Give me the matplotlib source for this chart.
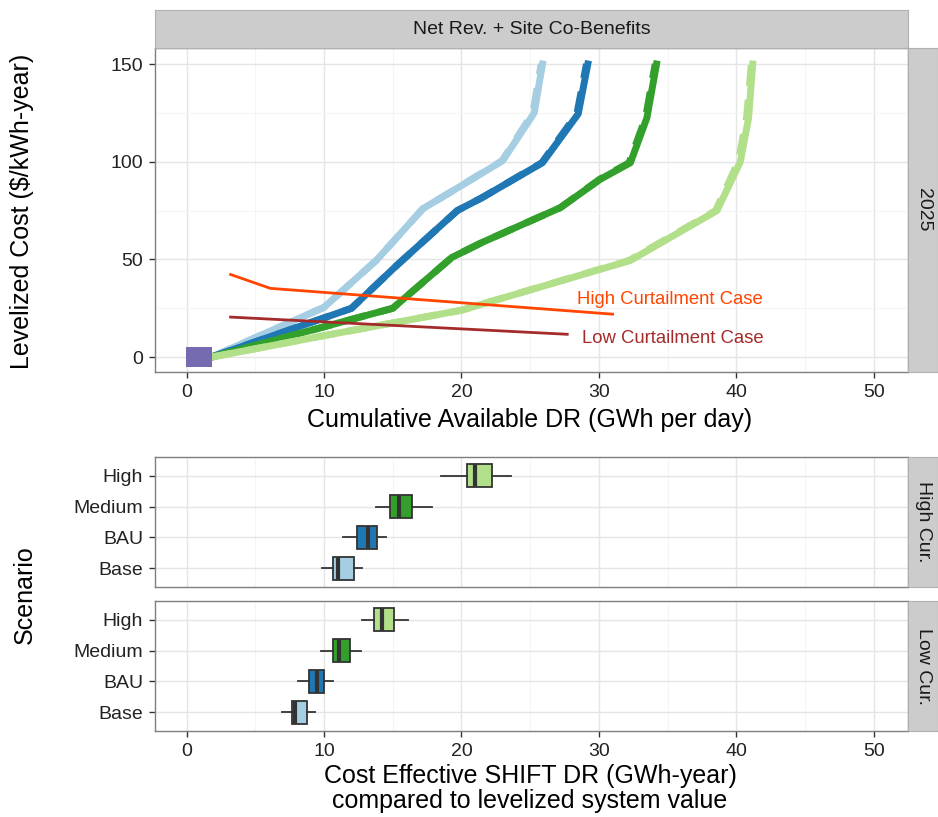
import numpy as np
import matplotlib.pyplot as plt

plt.rcParams['font.family'] = ['Liberation Sans', 'DejaVu Sans']

# supply curves: cumulative DR (GWh/day) vs levelized cost ($/kWh-year)
base_x = [1.8, 10.0, 13.8, 17.2, 19.1, 23.0, 25.3, 25.9]
base_y = [0, 25.5, 49.5, 76, 84, 100.5, 125, 150]
base_x_alt = [1.8, 10.0, 13.8, 17.2, 19.1, 22.95, 25.2, 25.8]

bau_x = [1.8, 12.0, 15.3, 19.7, 21.5, 25.9, 28.5, 29.2]
bau_y = [0, 25, 47, 75, 81.6, 99.5, 124.5, 150]
bau_x_alt = [1.8, 12.0, 15.3, 19.7, 21.5, 25.85, 28.4, 29.1]

med_x = [1.8, 15.0, 19.3, 21.5, 27.2, 30.1, 32.3, 33.5, 34.2]
med_y = [0, 25, 51, 58.7, 76.5, 91, 99.5, 122.5, 150]
med_x_alt = [1.8, 15.0, 19.3, 21.5, 27.2, 30.05, 32.2, 33.4, 34.1]

high_x = [1.8, 10.0, 20.0, 32.3, 38.6, 40.3, 40.9, 41.2]
high_y = [0, 11, 24, 49.5, 75, 100, 122.5, 150]
high_x_alt = [1.8, 10.0, 20.0, 32.2, 38.5, 40.15, 40.75, 41.1]

# levelized system value lines
hc_x = [3.2, 6.1, 31.0]
hc_y = [42.3, 35.2, 22.0]
lc_x = [3.2, 27.7]
lc_y = [20.5, 11.7]

# current DR point
now_x = [0.9]
now_y = [0]

scen = ['Base', 'BAU', 'Medium', 'High']
colors = ['#a6cee3', '#1f78b4', '#33a02c', '#b2df8a']

# boxplot stats (whislo, q1, med, q3, whishi) for each scenario
high_cur = {
    'Base':   [9.83, 10.64, 11.0, 12.17, 12.8],
    'BAU':    [11.36, 12.38, 13.18, 13.89, 14.53],
    'Medium': [13.77, 14.82, 15.47, 16.42, 17.86],
    'High':   [18.55, 20.44, 21.02, 22.26, 23.63],
}
low_cur = {
    'Base':   [6.93, 7.64, 7.88, 8.78, 9.37],
    'BAU':    [8.1, 8.93, 9.51, 10.0, 10.64],
    'Medium': [9.76, 10.64, 11.09, 11.92, 12.72],
    'High':   [12.75, 13.62, 14.23, 15.06, 16.13],
}

W, H = 938, 817
fig = plt.figure(figsize=(W / 100, H / 100), dpi=100)

def px_axes(x0, y0, x1, y1):
    return fig.add_axes([x0 / W, 1 - y1 / H, (x1 - x0) / W, (y1 - y0) / H])

def style(ax):
    for s in ax.spines.values():
        s.set_color('#7f7f7f')
        s.set_linewidth(1.0)
    ax.tick_params(length=4, width=1, color='#333333', labelsize=14, labelcolor='#222222', pad=4.5)
    ax.set_axisbelow(True)

def strip(x0, y0, x1, y1, text, rot=0):
    sa = px_axes(x0, y0, x1, y1)
    sa.set_xticks([]); sa.set_yticks([])
    sa.set_facecolor('#cccccc')
    for s in sa.spines.values():
        s.set_color('#b0b0b0')
    sa.text(0.5, 0.5, text, rotation=rot, ha='center', va='center', fontsize=14,
            color='#1a1a1a', transform=sa.transAxes)

xl = (-2.3, 52.5)

# top panel
ax = px_axes(155, 48, 908, 372)
style(ax)
ax.set_xlim(*xl)
ax.set_ylim(-7.6, 158.2)
ax.set_xticks([0, 10, 20, 30, 40, 50])
ax.set_xticks([5, 15, 25, 35, 45], minor=True)
ax.set_yticks([0, 50, 100, 150])
ax.set_yticks([25, 75, 125], minor=True)
ax.tick_params(which='minor', length=0)
ax.grid(which='major', color='#e5e5e5', lw=1)
ax.grid(which='minor', color='#f5f5f5', lw=0.8)

for (xs, xa, ys), c in zip([(base_x, base_x_alt, base_y), (bau_x, bau_x_alt, bau_y),
                            (med_x, med_x_alt, med_y), (high_x, high_x_alt, high_y)], colors):
    ax.plot(xs, ys, color=c, lw=5, zorder=3)
    ax.plot(xa, ys, color=c, lw=5, ls=(0, (3, 2)), zorder=3)

ax.plot(hc_x, hc_y, color='#ff4500', lw=2, zorder=4)
ax.plot(lc_x, lc_y, color='#a52a2a', lw=2, zorder=4)
ax.text(28.4, 29.6, 'High Curtailment Case', color='#ff4500', fontsize=13.3, va='center')
ax.text(28.8, 9.7, 'Low Curtailment Case', color='#a52a2a', fontsize=13.3, va='center')
rect_marker = [(-1, -0.76), (1, -0.76), (1, 0.76), (-1, 0.76), (-1, -0.76)]
ax.scatter(now_x, now_y, marker=rect_marker, s=330, color='#756bb1', zorder=5, linewidths=0)

fig.text(530 / W, 1 - 420 / H, 'Cumulative Available DR (GWh per day)', fontsize=18,
         ha='center', va='center')
fig.text(22 / W, 1 - 211 / H, 'Levelized Cost ($/kWh-year)', fontsize=18, rotation=90,
         ha='center', va='center')

strip(155, 10, 908, 48, 'Net Rev. + Site Co-Benefits')
strip(908, 48, 938, 372, '2025', rot=-90)

# bottom panels
panels = [(457, 587, high_cur, 'High Cur.'), (601, 731, low_cur, 'Low Cur.')]
for i, (y0, y1, data, lab) in enumerate(panels):
    bx = px_axes(155, y0, 908, y1)
    style(bx)
    bx.set_xlim(*xl)
    bx.set_ylim(0.4, 4.6)
    bx.set_xticks([0, 10, 20, 30, 40, 50])
    bx.set_xticks([5, 15, 25, 35, 45], minor=True)
    bx.tick_params(which='minor', length=0)
    bx.grid(which='major', color='#e5e5e5', lw=1)
    bx.grid(which='minor', axis='x', color='#f5f5f5', lw=0.8)
    stats = []
    for s in scen:
        lo, q1, med, q3, hi = data[s]
        stats.append({'whislo': lo, 'q1': q1, 'med': med, 'q3': q3, 'whishi': hi, 'fliers': []})
    bp = bx.bxp(stats, positions=[1, 2, 3, 4], vert=False, widths=0.75, patch_artist=True,
                showcaps=False, manage_ticks=False,
                boxprops=dict(edgecolor='#333333', lw=1.3),
                whiskerprops=dict(color='#333333', lw=1.3),
                medianprops=dict(color='#333333', lw=3))
    for patch, c in zip(bp['boxes'], colors):
        patch.set_facecolor(c)
    bx.set_yticks([1, 2, 3, 4])
    bx.set_yticklabels(scen)
    if i == 0:
        bx.tick_params(axis='x', length=0, labelbottom=False)
    strip(908, y0, 938, y1, lab, rot=-90)

fig.text(530 / W, 1 - 776 / H, 'Cost Effective SHIFT DR (GWh-year)', fontsize=18,
         ha='center', va='center')
fig.text(530 / W, 1 - 801 / H, 'compared to levelized system value', fontsize=18,
         ha='center', va='center')
fig.text(25 / W, 1 - 595 / H, 'Scenario', rotation=90, fontsize=18, ha='center', va='center')

fig.savefig('out.png', dpi=100)
